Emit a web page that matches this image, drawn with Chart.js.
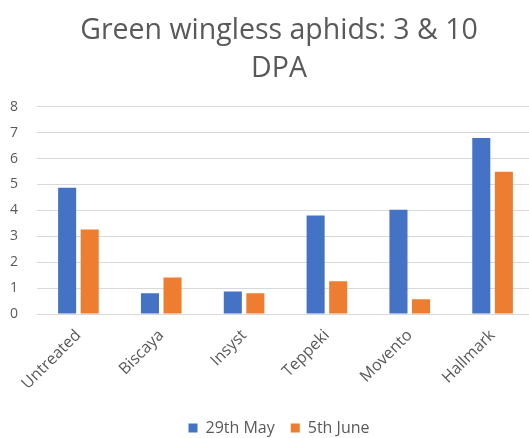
<!DOCTYPE html>
<html>
<head>
<meta charset="utf-8">
<script src="https://cdn.jsdelivr.net/npm/chart.js@4/dist/chart.umd.min.js"></script>
<style>
  html, body { margin: 0; padding: 0; background: #fff; overflow: hidden; }
  #wrap { width: 548px; height: 438px; }
</style>
</head>
<body>
<div id="wrap"><canvas id="aphidChart"></canvas></div>
<script>
const treatments = ['Untreated', 'Biscaya', 'Insyst', 'Teppeki', 'Movento', 'Hallmark'];
const may29 = [4.87, 0.8, 0.87, 3.8, 4.03, 6.8];
const june5 = [3.26, 1.41, 0.8, 1.26, 0.57, 5.49];
const yTicks = [0, 1, 2, 3, 4, 5, 6, 7, 8];

const grey = '#595959';
Chart.defaults.font.family = '"Open Sans", Lato, sans-serif';
Chart.defaults.color = grey;

const ctx = document.getElementById('aphidChart').getContext('2d');
new Chart(ctx, {
  type: 'bar',
  data: {
    labels: treatments,
    datasets: [
      { label: '29th May', data: may29, backgroundColor: '#4472c4' },
      { label: '5th June', data: june5, backgroundColor: '#ed7d31' },
    ],
  },
  options: {
    responsive: true,
    maintainAspectRatio: false,
    animation: false,
    categoryPercentage: 0.545,
    barPercentage: 0.8,
    layout: { padding: { left: 10, right: 0, top: 0, bottom: -8 } },
    plugins: {
      title: {
        display: true,
        text: ['Green wingless aphids: 3 & 10', 'DPA'],
        color: grey,
        font: { size: 28.5, weight: 'normal', lineHeight: 1.33 },
        padding: { top: 12, bottom: 19 },
      },
      legend: {
        position: 'bottom',
        labels: {
          boxWidth: 9,
          boxHeight: 9,
          padding: 16,
          font: { size: 16 },
          color: grey,
        },
      },
      tooltip: { enabled: false },
    },
    scales: {
      x: {
        grid: { display: false },
        border: { color: '#d9d9d9' },
        ticks: {
          minRotation: 45,
          maxRotation: 45,
          padding: 4,
          font: { size: 16 },
          color: grey,
        },
        afterFit: (axis) => {
          axis.height = 90;
          axis.paddingLeft = 0;
          axis.paddingRight = 14;
        },
      },
      y: {
        min: 0,
        max: 8,
        afterBuildTicks: (axis) => {
          axis.ticks = yTicks.map((v) => ({ value: v }));
        },
        grid: { color: '#d9d9d9', drawTicks: false },
        border: { display: false },
        ticks: { padding: 19, font: { size: 14 }, color: grey },
        afterFit: (axis) => {
          axis.width = 27;
        },
      },
    },
  },
});
</script>
</body>
</html>
